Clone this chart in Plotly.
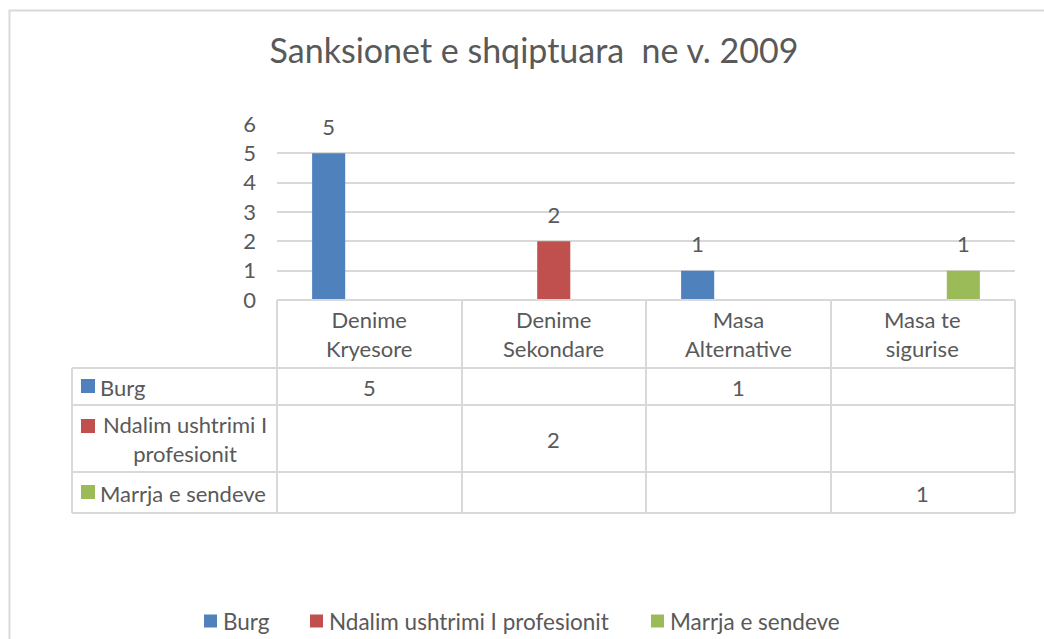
import plotly.graph_objects as go

# chart data
categories = ["Denime Kryesore", "Denime Sekondare", "Masa Alternative", "Masa te sigurise"]
category_labels = ["Denime<br>Kryesore", "Denime<br>Sekondare", "Masa<br>Alternative", "Masa te<br>sigurise"]
series_names = ["Burg", "Ndalim ushtrimi I profesionit", "Marrja e sendeve"]
table_row_labels = ["Burg", "Ndalim ushtrimi I<br>profesionit", "Marrja e sendeve"]
burg = [5, None, 1, None]
ndalim = [None, 2, None, None]
marrja = [None, None, None, 1]
y_ticks = [0, 1, 2, 3, 4, 5, 6]

COLORS = ["#4F81BD", "#C0504D", "#9BBB59"]
TEXT = "#595959"
GRID = "#D9D9D9"
FONT = "Lato, Open Sans, sans-serif"
FS = 22

W, H = 1044, 639
L, R, T, B = 277, 1015, 124, 300  # plot area in pixels


def px(x):
    return (x - L) / (R - L)


def py(y):
    return (B - y) / (B - T)


def font(size=FS):
    return dict(size=size, color=TEXT, family=FONT)


def swatch(x, y, color, s=14):
    return dict(type="rect", xref="paper", yref="paper", x0=px(x), x1=px(x + s),
                y0=py(y + s / 2), y1=py(y - s / 2), fillcolor=color, line_width=0)


fig = go.Figure()
for i, (name, vals, col) in enumerate(zip(series_names, [burg, ndalim, marrja], COLORS)):
    fig.add_trace(go.Bar(
        x=categories, y=vals, name=name, offsetgroup=str(i),
        marker=dict(color=col, line_width=0), hoverinfo="skip",
    ))
    # invisible spacer on top of each bar carries the data label (Excel puts it a bit higher)
    fig.add_trace(go.Bar(
        x=categories, y=[0.35 if v is not None else None for v in vals], base=vals,
        offsetgroup=str(i), hoverinfo="skip",
        marker=dict(color="rgba(0,0,0,0)", line_width=0),
        text=[str(v) if v is not None else "" for v in vals], textposition="outside",
        constraintext="none", textfont=font(), cliponaxis=False,
    ))

shapes = []
ann = []

# outer chart border
shapes.append(dict(type="rect", xref="paper", yref="paper", x0=px(9.5), x1=px(1100),
                   y0=py(700), y1=py(10.5), line=dict(color="#D9D9D9", width=2)))

# data table grid
line = dict(color=GRID, width=2)
for x in [277, 462, 646, 831, 1015]:
    shapes.append(dict(type="line", xref="paper", yref="paper", x0=px(x), x1=px(x),
                       y0=py(300), y1=py(513), line=line))
shapes.append(dict(type="line", xref="paper", yref="paper", x0=px(72), x1=px(72),
                   y0=py(368), y1=py(513), line=line))
shapes.append(dict(type="line", xref="paper", yref="paper", x0=px(277), x1=px(1015),
                   y0=py(300), y1=py(300), line=line))
for y in [368, 405, 472, 513]:
    shapes.append(dict(type="line", xref="paper", yref="paper", x0=px(72), x1=px(1015),
                       y0=py(y), y1=py(y), line=line))

# category header
for cat, lab in zip(categories, category_labels):
    ann.append(dict(x=cat, xref="x", xanchor="center", y=py(334), yref="paper",
                    yanchor="middle", text=lab, showarrow=False, font=font(),
                    align="center"))

# table rows
row_centers = [387, 439, 493]
for i, (lab, vals) in enumerate(zip(table_row_labels, [burg, ndalim, marrja])):
    yc = row_centers[i]
    if i == 1:
        ann.append(dict(x=px(185), xref="paper", xanchor="center", y=py(yc), yref="paper",
                        yanchor="middle", text=lab, showarrow=False, align="center",
                        font=font()))
        sy = 426
    else:
        ann.append(dict(x=px(98), xref="paper", xanchor="left", y=py(yc), yref="paper",
                        yanchor="middle", text=lab, showarrow=False, font=font()))
        sy = yc - 1
    shapes.append(swatch(81, sy, COLORS[i]))
    for cat, v in zip(categories, vals):
        if v is not None:
            ann.append(dict(x=cat, xref="x", xanchor="center", y=py(yc), yref="paper",
                            yanchor="middle", text=str(v), showarrow=False, font=font()))

# bottom legend (drawn by hand so it doesn't push the plot margins)
legend_x = [204, 310, 651]
for name, col, lx in zip(series_names, COLORS, legend_x):
    shapes.append(swatch(lx, 621, col, 13))
    ann.append(dict(x=px(lx + 17), xref="paper", xanchor="left", y=py(621), yref="paper",
                    yanchor="middle", text=name, showarrow=False, font=font(22.5)))

fig.update_layout(
    width=W, height=H,
    margin=dict(l=L, r=W - R, t=T, b=H - B),
    paper_bgcolor="white", plot_bgcolor="white",
    title=dict(text="Sanksionet e shqiptuara  ne v. 2009", x=534 / W, xanchor="center",
               y=1 - 51 / H, yanchor="middle", font=font(34)),
    barmode="group", bargap=0.34, bargroupgap=0.185,
    showlegend=False,
    xaxis=dict(showticklabels=False, showgrid=False, showline=False, zeroline=False,
               ticks=""),
    yaxis=dict(range=[0, 6], tickvals=y_ticks, showgrid=True, gridcolor=GRID, gridwidth=2,
               zeroline=False, showline=False, ticklabelstandoff=20, tickfont=font()),
    shapes=shapes, annotations=ann,
)

# pin the figure to the top-left corner of the page
pin = (
    "var gd=document.getElementById('{plot_id}');"
    "gd.style.position='fixed';gd.style.left='0';gd.style.top='0';"
    "document.body.style.margin='0';document.body.style.overflow='hidden';"
)
fig.write_html("out.html", config={"displayModeBar": False}, post_script=pin)
